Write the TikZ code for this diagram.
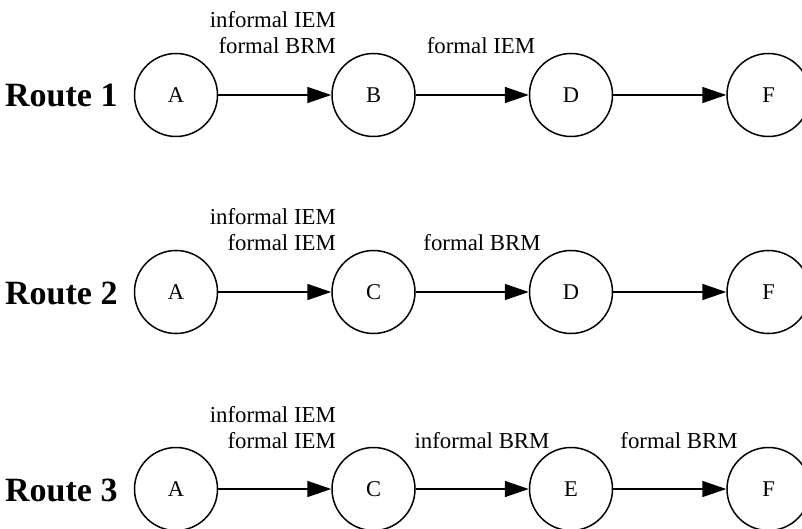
\documentclass[tikz,border=0pt]{standalone}
\usepackage{fontspec}
\setmainfont{Liberation Serif}
\usetikzlibrary{arrows.meta}
\tikzset{
  st/.style={circle, draw, line width=1.5pt, minimum size=83pt, inner sep=0pt, font=\fontsize{22.5}{26}\selectfont},
  lbl/.style={inner sep=0pt, font=\fontsize{22.8}{26}\selectfont},
  route/.style={inner sep=0pt, anchor=base west, font=\fontsize{34}{40}\selectfont\bfseries},
  edge/.style={line width=1.5pt, -{Triangle[length=24pt,width=16pt]}}
}
\begin{document}
\begin{tikzpicture}[x=1pt,y=-1pt]
\useasboundingbox (0,0) rectangle (802,529);
\clip (0,0) rectangle (802,529);
% Route 1
\node[route] (r1) at (5,107) {Route 1};
\node[st] (a1) at (176,95) {A};
\node[st] (b1) at (373.5,95) {B};
\node[st] (d1) at (571,95) {D};
\node[st] (f1) at (768.5,95) {F};
\draw[edge] (a1) -- (b1);
\draw[edge] (b1) -- (d1);
\draw[edge] (d1) -- (f1);
\node[lbl, anchor=base east] (l1a) at (336,28) {informal IEM};
\node[lbl, anchor=base east] (l1b) at (336,54) {formal BRM};
\node[lbl, anchor=base] (l1c) at (481,54) {formal IEM};
% Route 2
\node[route] (r2) at (5,304) {Route 2};
\node[st] (a2) at (176,292) {A};
\node[st] (c2) at (373.5,292) {C};
\node[st] (d2) at (571,292) {D};
\node[st] (f2) at (768.5,292) {F};
\draw[edge] (a2) -- (c2);
\draw[edge] (c2) -- (d2);
\draw[edge] (d2) -- (f2);
\node[lbl, anchor=base east] (l2a) at (336,225) {informal IEM};
\node[lbl, anchor=base east] (l2b) at (336,251) {formal IEM};
\node[lbl, anchor=base] (l2c) at (482,251) {formal BRM};
% Route 3
\node[route] (r3) at (5,501) {Route 3};
\node[st] (a3) at (176,489) {A};
\node[st] (c3) at (373.5,489) {C};
\node[st] (e3) at (571,489) {E};
\node[st] (f3) at (768.5,489) {F};
\draw[edge] (a3) -- (c3);
\draw[edge] (c3) -- (e3);
\draw[edge] (e3) -- (f3);
\node[lbl, anchor=base east] (l3a) at (336,422) {informal IEM};
\node[lbl, anchor=base east] (l3b) at (336,448) {formal IEM};
\node[lbl, anchor=base] (l3c) at (482,448) {informal BRM};
\node[lbl, anchor=base] (l3d) at (679,448) {formal BRM};
\end{tikzpicture}
\end{document}
